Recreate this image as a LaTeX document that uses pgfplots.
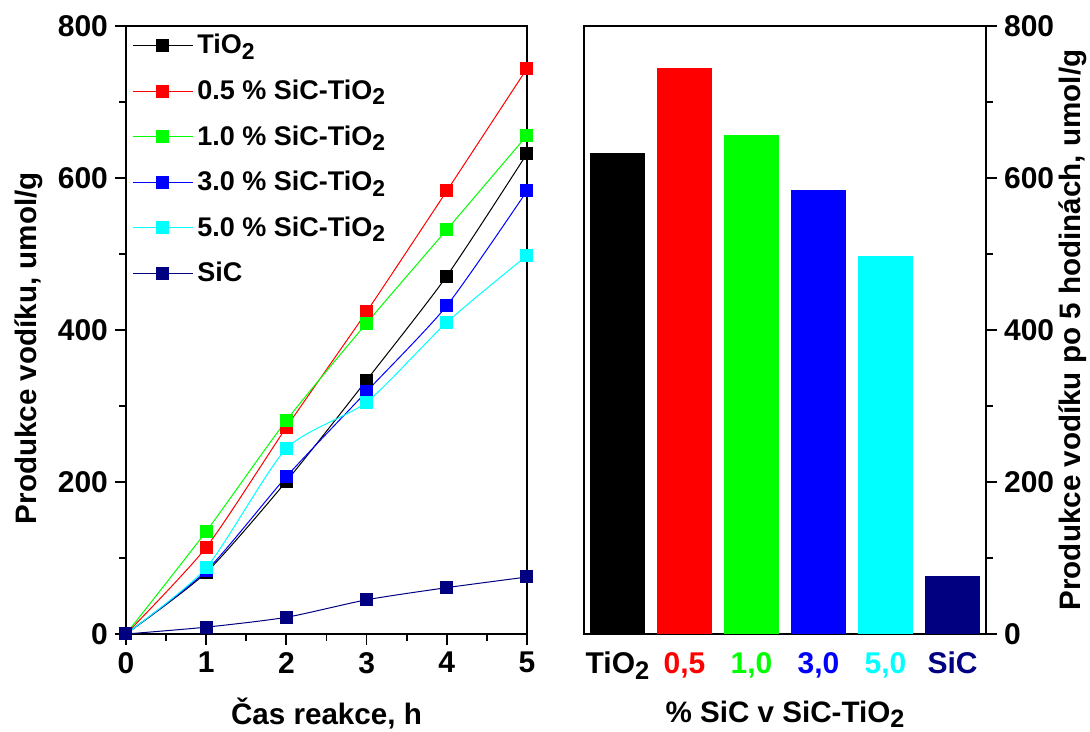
\documentclass[border=0pt]{standalone}
\usepackage{pgfplots}
\pgfplotsset{compat=1.18}
\usepackage{graphicx}
\usepackage{fontspec}
\setmainfont{Liberation Sans}
\definecolor{cgreen}{RGB}{0,255,0}
\definecolor{ccyan}{RGB}{0,255,255}
\definecolor{cnavy}{RGB}{0,0,128}
\newcommand\sub[1]{\raisebox{-0.38ex}{\scalebox{0.85}{#1}}}
\begin{document}
\begin{tikzpicture}
\useasboundingbox (-63pt,-49pt) rectangle (482pt,317pt);
\pgfplotsset{
  every axis/.append style={
    scale only axis,
    width=200.5pt, height=304pt,
    axis line style={line width=1.1pt},
    every tick/.style={black, line width=0.9pt},
    major tick length=5.5pt,
    minor tick length=3.5pt,
    tick align=outside,
    ymin=0, ymax=800,
    ytick={0,200,400,600,800},
    minor y tick num=1,
    /pgf/number format/assume math mode=true,
    tick label style={font=\bfseries\fontsize{15}{17}\selectfont},
    label style={font=\bfseries\fontsize{14.8}{17}\selectfont},
  },
}
\begin{axis}[
  at={(0pt,0pt)},
  xmin=0, xmax=5,
  xtick={0,1,2,3,4,5},
  minor x tick num=1,
  tick pos=left,
  xlabel={Čas reakce, h},
  xlabel style={at={(axis description cs:0.5,0)}, anchor=base, yshift=-45.3pt},
  ylabel={Produkce vodíku, umol/g},
  ylabel style={at={(axis description cs:-0.222,0.47)}, anchor=base},
  legend cell align=left,
  legend style={draw=none, fill=none, at={(0.0,1.0)}, anchor=north west,
    font=\bfseries\fontsize{13.5}{15}\selectfont, row sep=7.5pt,
    inner xsep=3pt, inner ysep=2pt},
  legend image code/.code={\draw[mark repeat=2,mark phase=2] plot coordinates {(0pt,0pt)(15pt,0pt)(30pt,0pt)};},
  every axis plot/.append style={line width=0.5pt, mark=square*, mark size=3pt, smooth, tension=0.4},
]
\addplot[black, mark options={fill=black}] coordinates {(0,0)(1,81)(2,201)(3,334)(4,471)(5,632)};
\addlegendentry{TiO\sub{2}}
\addplot[red, mark options={fill=red}] coordinates {(0,0)(1,114)(2,272)(3,424)(4,583)(5,744)};
\addlegendentry{0.5 \% SiC-TiO\sub{2}}
\addplot[cgreen, mark options={fill=cgreen}] coordinates {(0,0)(1,135)(2,281)(3,409)(4,532)(5,656)};
\addlegendentry{1.0 \% SiC-TiO\sub{2}}
\addplot[blue, mark options={fill=blue}] coordinates {(0,0)(1,83)(2,207)(3,319)(4,432)(5,583)};
\addlegendentry{3.0 \% SiC-TiO\sub{2}}
\addplot[ccyan, mark options={fill=ccyan}] coordinates {(0,0)(1,87)(2,244)(3,305)(4,410)(5,498)};
\addlegendentry{5.0 \% SiC-TiO\sub{2}}
\addplot[cnavy, mark options={fill=cnavy}] coordinates {(0,0)(1,9)(2,22)(3,45)(4,61)(5,75)};
\addlegendentry{SiC}
\end{axis}
\begin{axis}[
  at={(229pt,0pt)},
  width=201pt,
  xmin=-0.5, xmax=5.5,
  xtick={0,1,2,3,4,5},
  xticklabels={{TiO\sub{2}},{\color{red}0,5},{\color{cgreen}1,0},{\color{blue}3,0},{\color{ccyan}5,0},{\color{cnavy}SiC}},
  x tick style={draw=none},
  ytick pos=right,
  yticklabel pos=right,
  xtick pos=bottom,
  xlabel={\% SiC v SiC-TiO\sub{2}},
  xlabel style={at={(axis description cs:0.5,0)}, anchor=base, yshift=-44pt},
  ylabel={Produkce vodíku po 5 hodinách, umol/g},
  ylabel style={at={(axis description cs:1.2363,0.5)}, anchor=base},
  ybar, bar width=0.82, bar shift=0pt,
  every axis plot/.append style={draw=none},
]
\addplot[fill=black] coordinates {(0,633)};
\addplot[fill=red] coordinates {(1,745)};
\addplot[fill=cgreen] coordinates {(2,656)};
\addplot[fill=blue] coordinates {(3,584)};
\addplot[fill=ccyan] coordinates {(4,498)};
\addplot[fill=cnavy] coordinates {(5,76)};
\end{axis}
\end{tikzpicture}
\end{document}
